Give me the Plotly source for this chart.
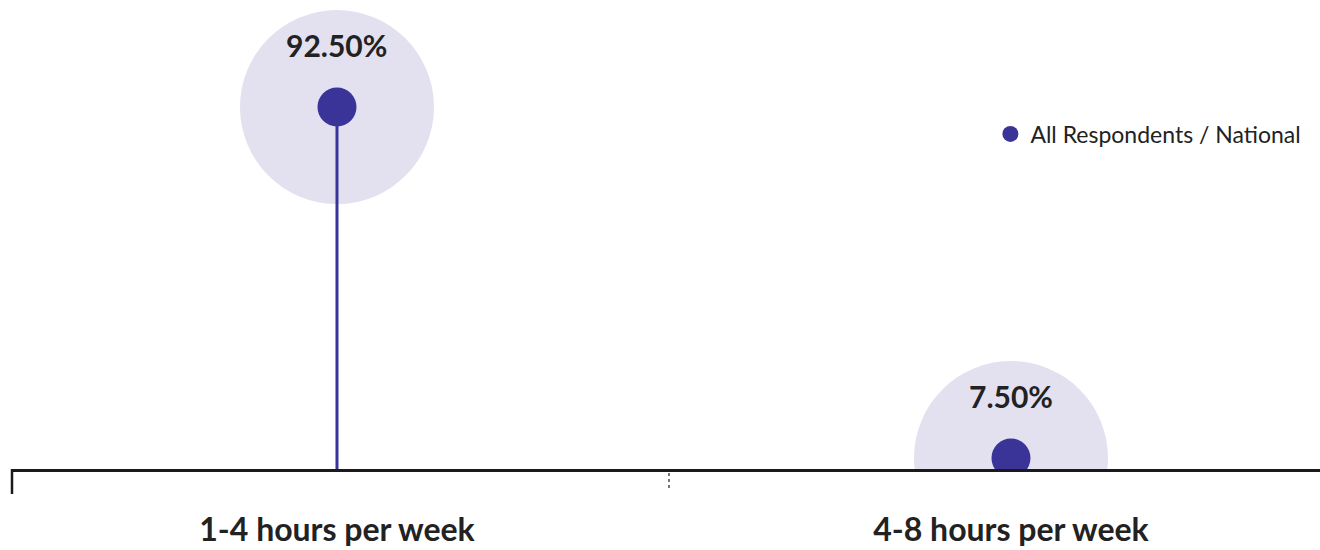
import plotly.graph_objects as go

# Weekly hours categories and share of respondents (%)
categories = ["1-4 hours per week", "4-8 hours per week"]
share_pct = [92.5, 7.5]
series_name = "All Respondents / National"

DOT = "#3a3499"
HALO = "#e3e1f0"
TEXT = "#222222"
FONT = "Lato"

fig = go.Figure()

# soft halo behind each point
fig.add_trace(go.Scatter(
    x=categories, y=share_pct, mode="markers",
    marker=dict(size=194, color=HALO, line=dict(width=0)),
    hoverinfo="skip", showlegend=False,
))

# lollipop stems from the baseline up to each value
stem_x, stem_y = [], []
for c, v in zip(categories, share_pct):
    stem_x += [c, c, None]
    stem_y += [0, v, None]
fig.add_trace(go.Scatter(
    x=stem_x, y=stem_y, mode="lines",
    line=dict(color=DOT, width=3),
    hoverinfo="skip", showlegend=False,
))

# value dots
fig.add_trace(go.Scatter(
    x=categories, y=share_pct, mode="markers", name=series_name,
    marker=dict(size=39, color=DOT, line=dict(width=0)),
))

# value labels above the dots
for c, v in zip(categories, share_pct):
    fig.add_annotation(
        x=c, y=v, text=f"<b>{v:.2f}%</b>", showarrow=False,
        yshift=62, font=dict(family=FONT, size=30, color=TEXT),
    )

# left end tick and dotted divider between categories
fig.add_shape(type="line", xref="paper", yref="paper",
              x0=0, x1=0, ysizemode="pixel", yanchor=0, y0=0, y1=-25,
              line=dict(color="#1a1a1a", width=2.5))
fig.add_shape(type="line", xref="x", yref="paper",
              x0=0.4926, x1=0.4926, ysizemode="pixel", yanchor=0, y0=-4, y1=-22,
              line=dict(color="#777777", width=2, dash="dot"))

fig.update_layout(
    width=1320, height=550,
    margin=dict(l=12, r=0, t=10, b=81),
    paper_bgcolor="white", plot_bgcolor="white",
    font=dict(family=FONT, color=TEXT),
    showlegend=True,
    legend=dict(x=0.748, y=0.73, xanchor="left", yanchor="middle",
                font=dict(family=FONT, size=23, color=TEXT),
                bgcolor="rgba(0,0,0,0)", itemsizing="trace"),
    xaxis=dict(
        type="category", range=[-0.4822, 1.4585],
        showline=True, linecolor="#1a1a1a", linewidth=2.5,
        showgrid=False, zeroline=False, ticks="",
        tickfont=dict(family=FONT, size=32, color=TEXT, weight="bold"),
        ticklabelstandoff=31,
    ),
    yaxis=dict(
        range=[4.836, 116.0], visible=False,
        showgrid=False, zeroline=False,
    ),
)

fig.write_html("out.html")
